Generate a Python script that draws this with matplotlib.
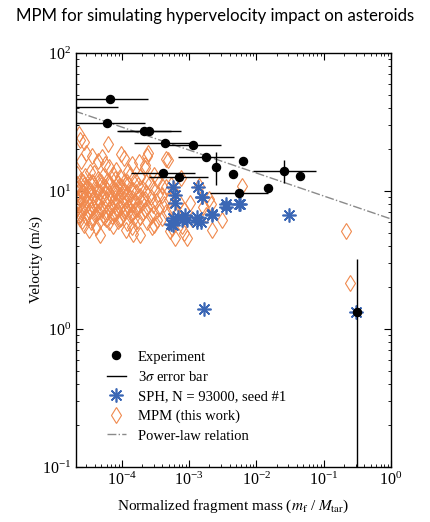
import matplotlib
matplotlib.use("Agg")
import matplotlib.pyplot as plt
from matplotlib.lines import Line2D
import numpy as np

plt.rcParams['font.family'] = ['Liberation Serif', 'DejaVu Serif']
plt.rcParams['mathtext.fontset'] = 'stix'

# ---------------- data ----------------
# Experiment (fragment mass ratio, velocity m/s)
exp_mass = [1.0e-5, 6.7e-5, 5.97e-5, 2.16e-4, 2.56e-4, 4.38e-4, 1.13e-3, 1.77e-3, 2.51e-3,
            6.38e-3, 4.49e-3, 0.026, 0.0449, 0.015, 5.51e-3, 4.06e-4, 7.08e-4, 0.31]
exp_vel = [40.8, 46.4, 31.0, 27.4, 27.4, 22.2, 21.4, 17.5, 14.9,
           16.5, 13.3, 14.0, 12.9, 10.5, 9.6, 13.6, 12.6, 1.33]
# 3-sigma error bar ends (mass lower/upper, velocity lower/upper)
exp_mass_lo = [1.1e-6, 1.83e-5, 1.63e-5, 8.5e-5, 9.0e-5, 1.52e-4, 4.3e-4, 6.8e-4, 2.51e-3,
               6.38e-3, 4.49e-3, 8.9e-3, 0.0449, 0.015, 2.04e-3, 1.37e-4, 2.54e-4, 0.31]
exp_mass_hi = [8.8e-5, 2.45e-4, 2.19e-4, 5.5e-4, 7.6e-4, 1.26e-3, 2.98e-3, 4.65e-3, 2.51e-3,
               6.38e-3, 4.49e-3, 0.0769, 0.0449, 0.015, 0.0149, 1.22e-3, 1.91e-3, 0.31]
exp_vel_lo = [40.8, 46.4, 31.0, 27.4, 27.4, 22.2, 21.4, 17.5, 11.0,
              16.5, 13.3, 11.5, 12.9, 10.5, 9.6, 13.6, 12.6, 0.01]
exp_vel_hi = [40.8, 46.4, 31.0, 27.4, 27.4, 22.2, 21.4, 17.5, 19.2,
              16.5, 13.3, 16.8, 12.9, 10.5, 9.6, 13.6, 12.6, 3.2]

# SPH, N = 93000, seed #1
sph_mass = [5.8e-4, 6.2e-4, 6.2e-4, 1.37e-3, 1.54e-3, 5.8e-4, 6.9e-4, 8.7e-4, 1.3e-3,
            2.17e-3, 3.6e-3, 5.7e-3, 5.8e-4, 7.8e-4, 1.3e-3, 5.5e-4, 9.3e-4, 1.54e-3,
            3.5e-3, 5.6e-3, 2.2e-3, 1.5e-3, 0.0305, 0.3, 1.66e-3]
sph_vel = [10.7, 9.35, 8.15, 10.7, 9.0, 6.35, 6.5, 6.7, 6.5,
           6.8, 7.7, 8.05, 5.7, 6.17, 6.0, 5.8, 6.17, 9.1,
           8.0, 8.0, 6.7, 6.0, 6.67, 1.33, 1.4]

# MPM (this work)
mpm_mass = [
    2.3e-5, 2.4e-5, 2.8e-5, 6.3e-5, 3.0e-5, 2.5e-5, 3.6e-5, 4.4e-5, 5.1e-5, 5.6e-5, 9.8e-5, 1.1e-4,
    2.4e-4, 2.2e-4, 4.6e-4, 1.25e-4, 1.45e-4, 3.4e-5, 8.3e-5, 6.6e-5, 1.8e-4, 3.0e-4,
    2.5e-4, 4.9e-4, 2.2e-4,
    2.2e-5, 2.9e-5, 3.9e-5, 5.3e-5, 7.4e-5, 9.5e-5, 1.35e-4, 1.9e-4,
    2.5e-5, 3.3e-5, 4.4e-5, 6.0e-5, 8.0e-5, 1.1e-4, 1.6e-4, 2.3e-4, 3.3e-4,
    2.2e-5, 2.8e-5, 3.7e-5, 5.0e-5, 6.8e-5, 9.0e-5, 1.25e-4, 1.75e-4, 2.6e-4, 4.0e-4,
    2.4e-5, 3.1e-5, 4.1e-5, 5.6e-5, 7.6e-5, 1.0e-4, 1.4e-4, 2.0e-4, 3.0e-4, 4.6e-4,
    2.2e-5, 2.7e-5, 3.5e-5, 4.7e-5, 6.4e-5, 8.6e-5, 1.2e-4, 1.65e-4, 2.3e-4, 3.5e-4, 6.0e-4,
    2.5e-5, 3.0e-5, 3.9e-5, 5.3e-5, 7.1e-5, 9.6e-5, 1.3e-4, 1.85e-4, 2.7e-4, 4.0e-4,
    2.2e-5, 2.8e-5, 3.6e-5, 4.8e-5, 6.5e-5, 8.8e-5, 1.2e-4, 1.6e-4, 2.2e-4, 3.2e-4, 5.0e-4, 7.0e-4,
    2.4e-5, 3.2e-5, 4.3e-5, 5.8e-5, 7.8e-5, 1.05e-4, 1.45e-4, 2.0e-4, 2.9e-4, 4.2e-4,
    2.2e-5, 2.9e-5, 3.8e-5, 5.1e-5, 6.9e-5, 9.3e-5, 1.25e-4, 1.7e-4, 2.4e-4, 3.6e-4, 5.5e-4, 8.5e-4,
    2.5e-5, 3.3e-5, 4.5e-5, 6.1e-5, 8.2e-5, 1.1e-4, 1.5e-4, 2.1e-4, 3.0e-4, 4.5e-4,
    2.3e-5, 3.0e-5, 4.0e-5, 5.4e-5, 7.3e-5, 9.9e-5, 1.35e-4, 1.9e-4, 2.7e-4, 4.0e-4, 6.5e-4,
    2.6e-5, 3.5e-5, 4.8e-5, 6.6e-5, 8.9e-5, 1.2e-4, 1.7e-4, 2.4e-4, 3.4e-4,
    2.8e-5, 4.2e-5, 7.5e-5, 1.45e-4, 3.0e-4, 5.6e-4,
    3.3e-5, 1.15e-4, 5.3e-4, 8.5e-4, 4.7e-5, 1.5e-4, 1.9e-4, 6.1e-4, 9.3e-4,
    1.03e-3, 1.6e-3, 2.0e-3, 2.2e-3, 3.1e-3, 6.05e-3, 0.212, 0.246, 1.1e-3, 1.8e-3,
    7.9e-4, 1.4e-3, 7.5e-4, 5.5e-4, 2.1e-3,
    2.6e-5, 3.4e-5, 4.5e-5, 6.0e-5, 8.1e-5, 1.1e-4, 1.5e-4,
    2.35e-5, 3.2e-5, 4.3e-5, 5.9e-5, 8.0e-5, 1.08e-4, 1.45e-4, 2.05e-4,
    2.6e-5, 3.5e-5, 4.7e-5, 6.4e-5, 8.6e-5, 1.15e-4, 1.6e-4, 2.25e-4,
    2.4e-5, 3.2e-5, 4.3e-5, 5.8e-5, 7.8e-5, 1.05e-4, 1.45e-4,
    2.7e-5, 3.6e-5, 4.9e-5, 6.6e-5, 8.9e-5, 1.2e-4,
    2.4e-5, 3.7e-5, 5.8e-5, 9.5e-5, 1.55e-4, 2.8e-4,
]
mpm_vel = [
    26.0, 23.5, 22.5, 22.0, 19.0, 16.5, 18.0, 16.5, 17.5, 15.8, 18.5, 17.3,
    17.8, 14.6, 17.0, 14.0, 15.8, 13.8, 14.2, 15.0, 16.2, 13.0,
    18.8, 16.8, 15.4,
    13.2, 12.8, 13.4, 12.9, 13.3, 12.7, 13.1, 12.6,
    12.1, 11.8, 12.3, 11.9, 12.2, 11.7, 12.0, 11.6, 12.1,
    11.3, 11.0, 11.4, 11.1, 11.3, 10.9, 11.2, 11.0, 11.4, 10.8,
    10.4, 10.6, 10.3, 10.7, 10.4, 10.6, 10.2, 10.5, 10.3, 10.6,
    9.7, 9.9, 9.6, 9.9, 9.7, 9.8, 9.6, 9.9, 9.7, 9.5, 9.9,
    9.1, 9.3, 9.0, 9.2, 9.1, 9.3, 9.0, 9.2, 9.1, 9.3,
    8.5, 8.7, 8.6, 8.4, 8.7, 8.5, 8.6, 8.4, 8.7, 8.5, 8.6, 8.3,
    8.0, 8.2, 8.0, 8.1, 7.9, 8.1, 8.0, 8.2, 7.9, 8.1,
    7.5, 7.7, 7.6, 7.4, 7.7, 7.5, 7.6, 7.4, 7.7, 7.5, 7.6, 7.3,
    7.0, 7.2, 7.0, 7.1, 6.9, 7.2, 7.0, 7.1, 6.9, 7.1,
    6.6, 6.5, 6.7, 6.5, 6.6, 6.4, 6.7, 6.5, 6.6, 6.4, 6.6,
    6.1, 6.0, 6.2, 6.0, 6.1, 5.9, 6.1, 6.0, 6.2,
    5.7, 5.5, 5.6, 5.5, 5.7, 5.4,
    5.2, 5.2, 5.1, 5.0, 4.8, 4.9, 4.8, 4.6, 4.6,
    8.2, 7.6, 8.75, 5.2, 6.2, 10.9, 5.15, 2.14, 6.3, 6.7,
    5.6, 10.8, 12.5, 11.0, 8.0,
    10.0, 10.1, 10.0, 10.1, 10.0, 9.95, 10.1,
    8.9, 8.8, 8.95, 8.8, 8.9, 8.8, 8.95, 8.8,
    7.3, 7.35, 7.25, 7.35, 7.3, 7.35, 7.25, 7.3,
    6.85, 6.8, 6.9, 6.8, 6.85, 6.8, 6.9,
    11.7, 11.6, 11.7, 11.6, 11.5, 11.6,
    6.3, 6.35, 6.3, 6.3, 6.35, 5.5,
]

# Power-law relation (two end points of the straight line in log-log space)
pl_mass = [2.0e-5, 1.0]
pl_vel = [38.0, 6.27]

xlim = (2.1e-5, 1.0)
ylim = (0.1, 100)

# ---------------- style ----------------
c_mpm = '#F0894D'
c_sph = '#3B67B5'

fig = plt.figure(figsize=(4.30, 5.22), dpi=100)
ax = fig.add_axes([0.1767, 0.1054, 0.7326, 0.7931])

ax.plot(pl_mass, pl_vel, color='#8a8a8a', ls='-.', lw=1.0, zorder=1)

ax.plot(mpm_mass, mpm_vel, ls='none', marker='d', ms=8, mfc='none',
        mec=c_mpm, mew=0.8, zorder=2)

ax.plot(sph_mass, sph_vel, ls='none', marker=(8, 2, 0), ms=10, mec=c_sph,
        mew=1.2, zorder=3)

em = np.array(exp_mass)
ev = np.array(exp_vel)
xerr = [em - np.array(exp_mass_lo), np.array(exp_mass_hi) - em]
yerr = [ev - np.array(exp_vel_lo), np.array(exp_vel_hi) - ev]
ax.errorbar(em, ev, xerr=xerr, yerr=yerr, fmt='none', ecolor='black',
            elinewidth=1.0, capsize=0, zorder=4)
ax.plot(em, ev, ls='none', marker='o', ms=5.8, color='black', zorder=5)

ax.set_xscale('log')
ax.set_yscale('log')
ax.set_xlim(*xlim)
ax.set_ylim(*ylim)

ax.tick_params(which='both', direction='in', top=True, right=True, labelsize=11.5)
ax.tick_params(which='major', length=5, width=0.8)
ax.tick_params(which='minor', length=2.5, width=0.6)
for s in ax.spines.values():
    s.set_linewidth(1.0)

ax.set_xlabel(r'Normalized fragment mass ($m_\mathrm{f}$ / $M_\mathrm{tar}$)', fontsize=11, labelpad=6)
ax.set_ylabel('Velocity (m/s)', fontsize=11, labelpad=-1)

handles = [
    Line2D([], [], ls='none', marker='o', ms=5.8, color='black'),
    Line2D([], [], color='black', lw=1.0),
    Line2D([], [], ls='none', marker=(8, 2, 0), ms=10, mec=c_sph, mew=1.2),
    Line2D([], [], ls='none', marker='d', ms=8, mfc='none', mec=c_mpm, mew=0.8),
    Line2D([], [], color='#8a8a8a', ls='-.', lw=1.0),
]
labels = ['Experiment', r'3$\sigma$ error bar', 'SPH, N = 93000, seed #1',
          'MPM (this work)', 'Power-law relation']
ax.legend(handles, labels, loc='lower left', bbox_to_anchor=(0.08, 0.045),
          frameon=False, fontsize=10.5, handlelength=1.3, handletextpad=0.8,
          labelspacing=0.43, borderaxespad=0)

fig.suptitle('MPM for simulating hypervelocity impact on asteroids',
             family=['Lato', 'DejaVu Sans'], fontsize=12.1, y=0.985, va='top')

fig.savefig('out.png', dpi=100)
